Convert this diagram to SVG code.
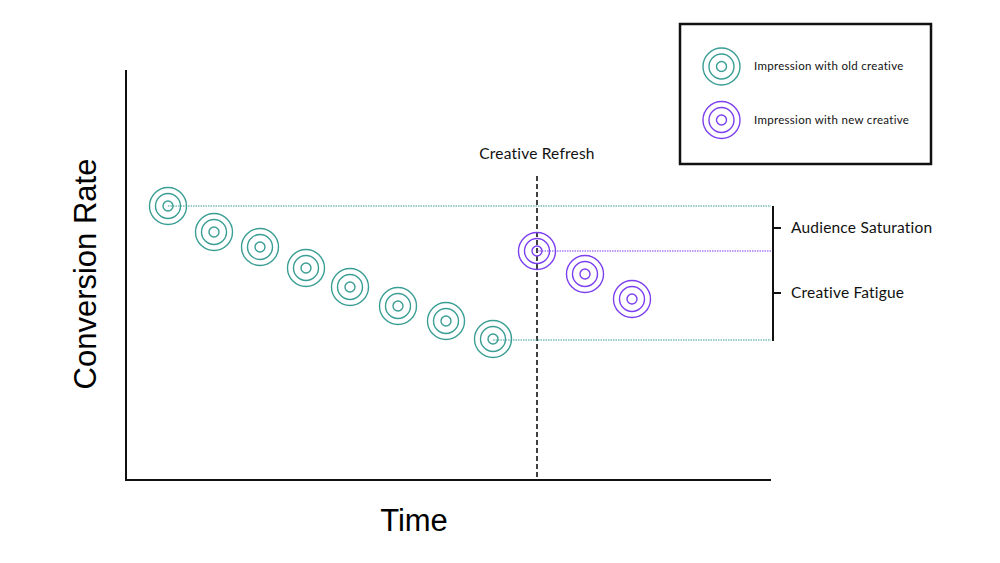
<svg xmlns="http://www.w3.org/2000/svg" width="1000" height="563" viewBox="0 0 1000 563">
<style>
.old{fill:none;stroke:#3a9e94;stroke-width:1.4}
.new{fill:none;stroke:#7c3ff0;stroke-width:1.4}
.lbl{font-family:Lato,"Open Sans",sans-serif;font-size:15.5px;letter-spacing:0.2px;fill:#111}
.leg{font-family:Lato,"Open Sans",sans-serif;font-size:11.5px;letter-spacing:0.3px;fill:#111}
.axis{font-family:"Liberation Sans",Arial,sans-serif;fill:#000}
</style>
<defs>
<g id="tOld"><circle class="old" r="18.5"/><circle class="old" r="12.5"/><circle class="old" r="5"/></g>
<g id="tNew"><circle class="new" r="18.5"/><circle class="new" r="12.5"/><circle class="new" r="5"/></g>
</defs>
<rect width="1000" height="563" fill="#fff"/>
<g id="connectors">
<line x1="126" y1="70" x2="126" y2="481" stroke="#111" stroke-width="2"/>
<line x1="125" y1="480" x2="771" y2="480" stroke="#111" stroke-width="2"/>
<line x1="537" y1="176" x2="537" y2="480" stroke="#111" stroke-width="1.6" stroke-dasharray="5,3"/>
<line x1="168" y1="206" x2="771" y2="206" stroke="#3a9e94" stroke-width="1.2" stroke-dasharray="1.5,1"/>
<line x1="537" y1="251" x2="771" y2="251" stroke="#7c3ff0" stroke-width="1.2" stroke-dasharray="1.5,1"/>
<line x1="493" y1="340" x2="771" y2="340" stroke="#3a9e94" stroke-width="1.2" stroke-dasharray="1.5,1"/>
<line x1="773" y1="206" x2="773" y2="341" stroke="#111" stroke-width="2"/>
<line x1="773" y1="228" x2="781" y2="228" stroke="#111" stroke-width="2"/>
<line x1="773" y1="293" x2="781" y2="293" stroke="#111" stroke-width="2"/>
</g>
<g id="old-impressions">
<use href="#tOld" x="168" y="206"/>
<use href="#tOld" x="214" y="232"/>
<use href="#tOld" x="260" y="247"/>
<use href="#tOld" x="306" y="268"/>
<use href="#tOld" x="350" y="287"/>
<use href="#tOld" x="398" y="306"/>
<use href="#tOld" x="446" y="321"/>
<use href="#tOld" x="493" y="339"/>
</g>
<g id="new-impressions">
<use href="#tNew" x="537" y="251"/>
<use href="#tNew" x="585" y="274"/>
<use href="#tNew" x="632" y="299"/>
</g>
<g id="labels">
<text class="lbl" x="537" y="159" text-anchor="middle">Creative Refresh</text>
<text class="lbl" x="791" y="233">Audience Saturation</text>
<text class="lbl" x="791" y="298">Creative Fatigue</text>
<text class="axis" x="414" y="531" font-size="31" text-anchor="middle">Time</text>
<text class="axis" transform="translate(96,274) rotate(-90)" font-size="31" text-anchor="middle">Conversion Rate</text>
</g>
<g id="legend">
<rect x="680" y="24" width="251" height="140" fill="#fff" stroke="#111" stroke-width="2.5"/>
<use href="#tOld" x="721.5" y="66.5"/>
<text class="leg" x="754" y="70">Impression with old creative</text>
<use href="#tNew" x="721.5" y="120"/>
<text class="leg" x="754" y="124">Impression with new creative</text>
</g>
</svg>
